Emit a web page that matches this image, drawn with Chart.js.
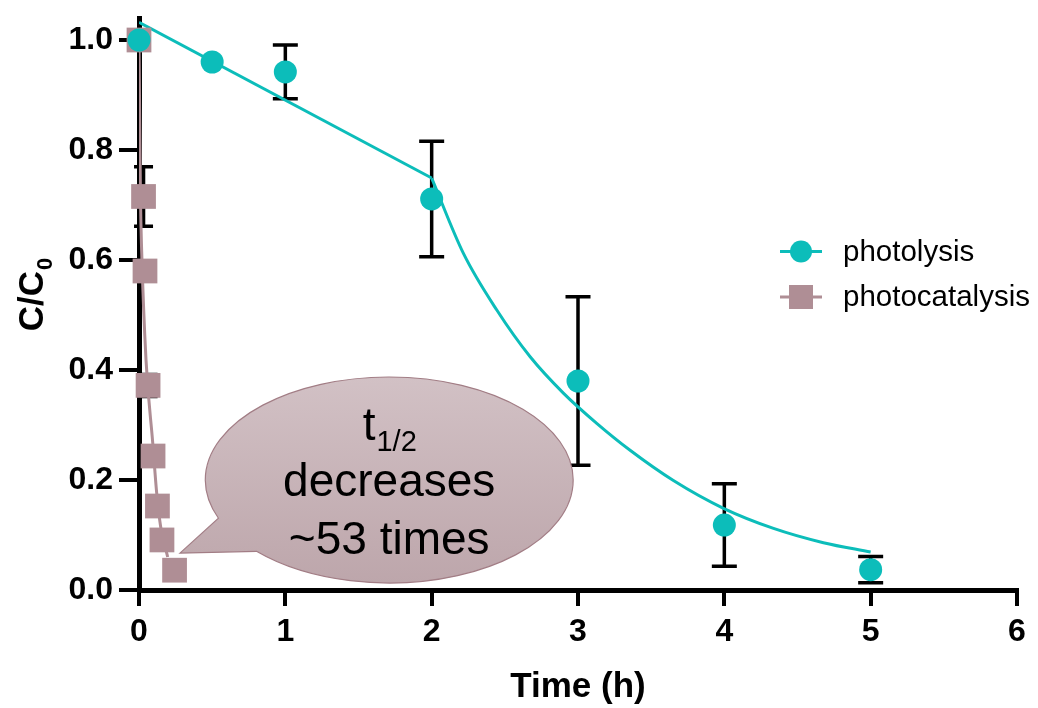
<!DOCTYPE html>
<html>
<head>
<meta charset="utf-8">
<script src="https://cdn.jsdelivr.net/npm/chart.js@4.4.1/dist/chart.umd.min.js"></script>
<style>
html,body{margin:0;padding:0;background:#fff;}
#wrap{width:1038px;height:708px;}
</style>
</head>
<body>
<div id="wrap"><canvas id="c" width="1038" height="708"></canvas></div>
<script>
// ---- data ----
const xTicks = [0, 1, 2, 3, 4, 5, 6];
const yTicks = [0, 0.2, 0.4, 0.6, 0.8, 1.0];

const photolysisTime = [0, 0.5, 1, 2, 3, 4, 5];
const photolysisC    = [1.0, 0.96, 0.942, 0.711, 0.38, 0.118, 0.037];
const photolysisErr  = [0, 0, 0.049, 0.105, 0.153, 0.075, 0.024];

const photocatTime = [0, 0.031, 0.041, 0.062, 0.096, 0.126, 0.157, 0.243];
const photocatC    = [1.0, 0.7155, 0.58, 0.372, 0.2436, 0.1527, 0.091, 0.036];
const photocatErr  = [0, 0.054, 0, 0.02, 0, 0, 0, 0];

// fitted curves
const photolysisFitT1 = [0, 2];
const photolysisFitC1 = [1.032, 0.749];
const photolysisFitT2 = [2, 2.217, 2.445, 2.673, 2.9, 3.128, 3.356, 3.652, 3.994, 4.336, 4.677, 5.0];
const photolysisFitC2 = [0.749, 0.612, 0.509, 0.424, 0.358, 0.303, 0.254, 0.199, 0.1485, 0.112, 0.086, 0.069];
const photocatFitT = [0, 0.01, 0.018, 0.048, 0.094, 0.121, 0.148, 0.196];
const photocatFitC = [1.0, 0.715, 0.618, 0.418, 0.267, 0.176, 0.115, 0.06];

const seriesNames = ['photolysis', 'photocatalysis'];
const xTitle = 'Time (h)';
const calloutLines = ['decreases', '~53 times'];

// ---- styles ----
const TEAL = '#0CBDBA';
const MAUVE = '#AF8E95';
const FONT = '"Liberation Sans", Arial, Helvetica, sans-serif';

const pts = (xs, ys) => xs.map((x, i) => ({x: x, y: ys[i]}));

const errorBarPlugin = {
  id: 'errorBars',
  beforeDatasetsDraw(chart) {
    const ctx = chart.ctx, xs = chart.scales.x, ys = chart.scales.y;
    const sets = [
      {t: photolysisTime, c: photolysisC, e: photolysisErr, cap: 25},
      {t: photocatTime, c: photocatC, e: photocatErr, cap: 19}
    ];
    ctx.save();
    ctx.strokeStyle = '#000';
    ctx.lineWidth = 3.5;
    sets.forEach(s => {
      s.t.forEach((t, i) => {
        if (!s.e[i]) return;
        const px = xs.getPixelForValue(t);
        const top = ys.getPixelForValue(s.c[i] + s.e[i]);
        const bot = ys.getPixelForValue(s.c[i] - s.e[i]);
        ctx.beginPath();
        ctx.moveTo(px, top); ctx.lineTo(px, bot);
        ctx.moveTo(px - s.cap / 2, top); ctx.lineTo(px + s.cap / 2, top);
        ctx.moveTo(px - s.cap / 2, bot); ctx.lineTo(px + s.cap / 2, bot);
        ctx.stroke();
      });
    });
    ctx.restore();
  }
};

const decorPlugin = {
  id: 'decor',
  afterDatasetsDraw(chart) {
    const ctx = chart.ctx, xs = chart.scales.x, ys = chart.scales.y;
    // ---- callout bubble (positioned in data units) ----
    const cx = xs.getPixelForValue(1.71), cy = ys.getPixelForValue(0.20);
    const rx = xs.getPixelForValue(1.71 + 1.257) - cx;
    const ry = cy - ys.getPixelForValue(0.20 + 0.1873);
    const tipX = xs.getPixelForValue(0.28), tipY = ys.getPixelForValue(0.067);
    const a1 = 158.2 * Math.PI / 180, a2 = 136.2 * Math.PI / 180;
    ctx.save();
    ctx.beginPath();
    ctx.moveTo(tipX, tipY);
    ctx.lineTo(cx + rx * Math.cos(a1), cy + ry * Math.sin(a1));
    ctx.ellipse(cx, cy, rx, ry, 0, a1, a2 + 2 * Math.PI, false);
    ctx.lineTo(tipX, tipY);
    ctx.closePath();
    const g = ctx.createLinearGradient(0, cy - ry, 0, cy + ry);
    g.addColorStop(0, '#D2C1C5');
    g.addColorStop(1, '#BDA6AB');
    ctx.fillStyle = g;
    ctx.fill();
    ctx.strokeStyle = '#A27D85';
    ctx.lineWidth = 1.2;
    ctx.stroke();

    ctx.fillStyle = '#000';
    ctx.textBaseline = 'alphabetic';
    // t_{1/2}
    ctx.font = '46px ' + FONT;
    const tW = ctx.measureText('t').width;
    ctx.font = '29px ' + FONT;
    const sW = ctx.measureText('1/2').width;
    const startX = cx - (tW + sW) / 2;
    ctx.font = '46px ' + FONT;
    ctx.textAlign = 'left';
    ctx.fillText('t', startX, cy - 40);
    ctx.font = '29px ' + FONT;
    ctx.fillText('1/2', startX + tW + 1, cy - 29);
    ctx.font = '46px ' + FONT;
    ctx.textAlign = 'center';
    ctx.fillText(calloutLines[0], cx, cy + 16);
    ctx.fillText(calloutLines[1], cx, cy + 74);
    ctx.restore();

    // ---- legend ----
    ctx.save();
    const lx0 = 780, lx1 = 822, lmx = 801;
    const rows = [{y: 251.5, color: TEAL, shape: 'circle'}, {y: 297, color: MAUVE, shape: 'rect'}];
    rows.forEach((r, i) => {
      ctx.strokeStyle = r.color;
      ctx.lineWidth = 3;
      ctx.beginPath(); ctx.moveTo(lx0, r.y); ctx.lineTo(lx1, r.y); ctx.stroke();
      ctx.fillStyle = r.color;
      if (r.shape === 'circle') {
        ctx.beginPath(); ctx.arc(lmx, r.y, 11, 0, 2 * Math.PI); ctx.fill();
      } else {
        ctx.fillRect(lmx - 12, r.y - 12, 24, 24);
      }
      ctx.fillStyle = '#000';
      ctx.font = '29.5px ' + FONT;
      ctx.textAlign = 'left';
      ctx.textBaseline = 'middle';
      ctx.fillText(seriesNames[i], 843, r.y + 1);
    });
    ctx.restore();

    // ---- axis titles ----
    ctx.save();
    ctx.fillStyle = '#000';
    ctx.font = 'bold 35px ' + FONT;
    ctx.textAlign = 'center';
    ctx.textBaseline = 'alphabetic';
    ctx.fillText(xTitle, (chart.chartArea.left + chart.chartArea.right) / 2, 697);
    // y title C/C0 rotated
    ctx.translate(43, 295);
    ctx.rotate(-Math.PI / 2);
    ctx.font = 'bold 35px ' + FONT;
    const mW = ctx.measureText('C/C').width;
    ctx.font = 'bold 22px ' + FONT;
    const zW = ctx.measureText('0').width;
    const sx = -(mW + zW) / 2;
    ctx.textAlign = 'left';
    ctx.font = 'bold 35px ' + FONT;
    ctx.fillText('C/C', sx, 0);
    ctx.font = 'bold 22px ' + FONT;
    ctx.fillText('0', sx + mW + 1, 9);
    ctx.restore();
  }
};

new Chart(document.getElementById('c'), {
  type: 'scatter',
  data: {
    datasets: [
      {label: 'fit1', data: pts(photolysisFitT1, photolysisFitC1), showLine: true, borderColor: TEAL, borderWidth: 3, pointRadius: 0, order: 3},
      {label: 'fit2', data: pts(photolysisFitT2, photolysisFitC2), showLine: true, borderColor: TEAL, borderWidth: 3, pointRadius: 0, cubicInterpolationMode: 'monotone', order: 3},
      {label: 'fit3', data: pts(photocatFitT, photocatFitC), showLine: true, borderColor: MAUVE, borderWidth: 3, pointRadius: 0, cubicInterpolationMode: 'monotone', order: 4},
      {label: seriesNames[1], data: pts(photocatTime, photocatC), pointStyle: 'rect', pointRadius: 17.5, backgroundColor: MAUVE, borderColor: MAUVE, borderWidth: 0, clip: false, order: 2},
      {label: seriesNames[0], data: pts(photolysisTime, photolysisC), pointStyle: 'circle', pointRadius: 11.5, backgroundColor: TEAL, borderColor: TEAL, borderWidth: 0, clip: false, order: 1}
    ]
  },
  options: {
    responsive: false,
    animation: false,
    layout: {padding: {top: 18, right: 21, left: 0, bottom: 0}},
    plugins: {legend: {display: false}, tooltip: {enabled: false}},
    scales: {
      x: {
        type: 'linear', min: 0, max: 6,
        afterBuildTicks: s => { s.ticks = xTicks.map(v => ({value: v})); },
        afterFit: s => { s.height = 118; s.paddingLeft = 0; s.paddingRight = 0; },
        border: {display: true, color: '#000', width: 5},
        grid: {display: true, drawOnChartArea: false, drawTicks: true, tickLength: 16, tickWidth: 4, tickColor: '#000', color: '#000', lineWidth: 4},
        ticks: {color: '#000', font: {family: FONT, size: 32, weight: 'bold'}, padding: 7, maxRotation: 0, callback: v => String(v)}
      },
      y: {
        type: 'linear', min: 0, max: 1.04,
        afterBuildTicks: s => { s.ticks = yTicks.map(v => ({value: v})); },
        afterFit: s => { s.width = 139; s.paddingTop = 0; s.paddingBottom = 0; },
        border: {display: true, color: '#000', width: 5},
        grid: {display: true, drawOnChartArea: false, drawTicks: true, tickLength: 20, tickWidth: 4, tickColor: '#000', color: '#000', lineWidth: 4},
        ticks: {color: '#000', font: {family: FONT, size: 32, weight: 'bold'}, padding: 6, callback: v => Number(v).toFixed(1)}
      }
    }
  },
  plugins: [errorBarPlugin, decorPlugin]
});
</script>
</body>
</html>
